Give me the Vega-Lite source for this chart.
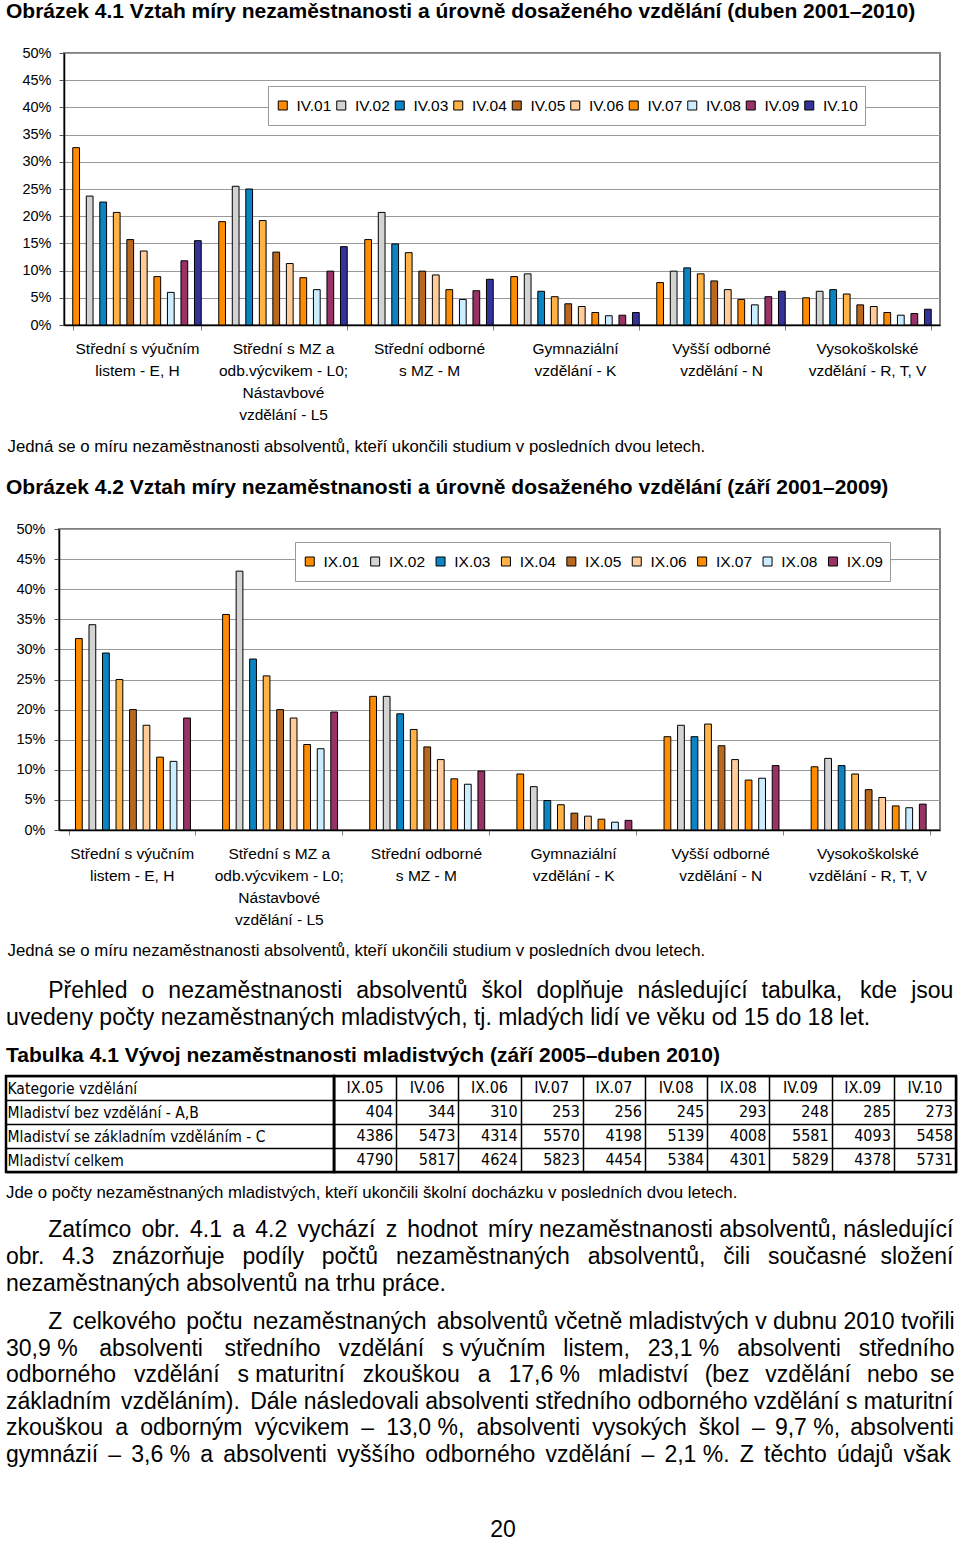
{
 "$schema": "https://vega.github.io/schema/vega-lite/v6.json",
 "background": "white",
 "padding": {"left": 4, "top": 1, "right": 0, "bottom": 0},
 "autosize": {"type": "pad"},
 "bounds": "full",
 "spacing": 0,
 "resolve": {"scale": {"color": "independent"}, "legend": {"color": "independent"}},
 "config": {
  "view": {"stroke": null},
  "font": "Liberation Sans",
  "title": {"font": "Liberation Sans", "color": "#000", "anchor": "start", "frame": "group", "fontWeight": "normal"},
  "axis": {"labelFont": "Liberation Sans", "titleFont": "Liberation Sans", "labelColor": "#000", "titleColor": "#000"},
  "legend": {"labelFont": "Liberation Sans", "labelColor": "#000"}
 },
 "datasets": {
  "duben": [
   {"kat": "Střední s výučním listem - E, H", "obd": "IV.01", "pct": 32.6},
   {"kat": "Střední s výučním listem - E, H", "obd": "IV.02", "pct": 23.7},
   {"kat": "Střední s výučním listem - E, H", "obd": "IV.03", "pct": 22.6},
   {"kat": "Střední s výučním listem - E, H", "obd": "IV.04", "pct": 20.7},
   {"kat": "Střední s výučním listem - E, H", "obd": "IV.05", "pct": 15.7},
   {"kat": "Střední s výučním listem - E, H", "obd": "IV.06", "pct": 13.6},
   {"kat": "Střední s výučním listem - E, H", "obd": "IV.07", "pct": 8.9},
   {"kat": "Střední s výučním listem - E, H", "obd": "IV.08", "pct": 6.0},
   {"kat": "Střední s výučním listem - E, H", "obd": "IV.09", "pct": 11.8},
   {"kat": "Střední s výučním listem - E, H", "obd": "IV.10", "pct": 15.5},
   {"kat": "Střední s MZ a odb.výcvikem - L0; Nástavbové vzdělání - L5", "obd": "IV.01", "pct": 19.0},
   {"kat": "Střední s MZ a odb.výcvikem - L0; Nástavbové vzdělání - L5", "obd": "IV.02", "pct": 25.5},
   {"kat": "Střední s MZ a odb.výcvikem - L0; Nástavbové vzdělání - L5", "obd": "IV.03", "pct": 25.0},
   {"kat": "Střední s MZ a odb.výcvikem - L0; Nástavbové vzdělání - L5", "obd": "IV.04", "pct": 19.2},
   {"kat": "Střední s MZ a odb.výcvikem - L0; Nástavbové vzdělání - L5", "obd": "IV.05", "pct": 13.4},
   {"kat": "Střední s MZ a odb.výcvikem - L0; Nástavbové vzdělání - L5", "obd": "IV.06", "pct": 11.3},
   {"kat": "Střední s MZ a odb.výcvikem - L0; Nástavbové vzdělání - L5", "obd": "IV.07", "pct": 8.7},
   {"kat": "Střední s MZ a odb.výcvikem - L0; Nástavbové vzdělání - L5", "obd": "IV.08", "pct": 6.5},
   {"kat": "Střední s MZ a odb.výcvikem - L0; Nástavbové vzdělání - L5", "obd": "IV.09", "pct": 9.9},
   {"kat": "Střední s MZ a odb.výcvikem - L0; Nástavbové vzdělání - L5", "obd": "IV.10", "pct": 14.4},
   {"kat": "Střední odborné s MZ - M", "obd": "IV.01", "pct": 15.7},
   {"kat": "Střední odborné s MZ - M", "obd": "IV.02", "pct": 20.7},
   {"kat": "Střední odborné s MZ - M", "obd": "IV.03", "pct": 14.9},
   {"kat": "Střední odborné s MZ - M", "obd": "IV.04", "pct": 13.3},
   {"kat": "Střední odborné s MZ - M", "obd": "IV.05", "pct": 9.9},
   {"kat": "Střední odborné s MZ - M", "obd": "IV.06", "pct": 9.2},
   {"kat": "Střední odborné s MZ - M", "obd": "IV.07", "pct": 6.5},
   {"kat": "Střední odborné s MZ - M", "obd": "IV.08", "pct": 4.7},
   {"kat": "Střední odborné s MZ - M", "obd": "IV.09", "pct": 6.3},
   {"kat": "Střední odborné s MZ - M", "obd": "IV.10", "pct": 8.4},
   {"kat": "Gymnaziální vzdělání - K", "obd": "IV.01", "pct": 8.9},
   {"kat": "Gymnaziální vzdělání - K", "obd": "IV.02", "pct": 9.4},
   {"kat": "Gymnaziální vzdělání - K", "obd": "IV.03", "pct": 6.2},
   {"kat": "Gymnaziální vzdělání - K", "obd": "IV.04", "pct": 5.2},
   {"kat": "Gymnaziální vzdělání - K", "obd": "IV.05", "pct": 3.9},
   {"kat": "Gymnaziální vzdělání - K", "obd": "IV.06", "pct": 3.4},
   {"kat": "Gymnaziální vzdělání - K", "obd": "IV.07", "pct": 2.3},
   {"kat": "Gymnaziální vzdělání - K", "obd": "IV.08", "pct": 1.7},
   {"kat": "Gymnaziální vzdělání - K", "obd": "IV.09", "pct": 1.8},
   {"kat": "Gymnaziální vzdělání - K", "obd": "IV.10", "pct": 2.3},
   {"kat": "Vyšší odborné vzdělání - N", "obd": "IV.01", "pct": 7.8},
   {"kat": "Vyšší odborné vzdělání - N", "obd": "IV.02", "pct": 9.9},
   {"kat": "Vyšší odborné vzdělání - N", "obd": "IV.03", "pct": 10.5},
   {"kat": "Vyšší odborné vzdělání - N", "obd": "IV.04", "pct": 9.4},
   {"kat": "Vyšší odborné vzdělání - N", "obd": "IV.05", "pct": 8.1},
   {"kat": "Vyšší odborné vzdělání - N", "obd": "IV.06", "pct": 6.5},
   {"kat": "Vyšší odborné vzdělání - N", "obd": "IV.07", "pct": 4.7},
   {"kat": "Vyšší odborné vzdělání - N", "obd": "IV.08", "pct": 3.7},
   {"kat": "Vyšší odborné vzdělání - N", "obd": "IV.09", "pct": 5.2},
   {"kat": "Vyšší odborné vzdělání - N", "obd": "IV.10", "pct": 6.2},
   {"kat": "Vysokoškolské vzdělání - R, T, V", "obd": "IV.01", "pct": 5.0},
   {"kat": "Vysokoškolské vzdělání - R, T, V", "obd": "IV.02", "pct": 6.2},
   {"kat": "Vysokoškolské vzdělání - R, T, V", "obd": "IV.03", "pct": 6.5},
   {"kat": "Vysokoškolské vzdělání - R, T, V", "obd": "IV.04", "pct": 5.7},
   {"kat": "Vysokoškolské vzdělání - R, T, V", "obd": "IV.05", "pct": 3.7},
   {"kat": "Vysokoškolské vzdělání - R, T, V", "obd": "IV.06", "pct": 3.4},
   {"kat": "Vysokoškolské vzdělání - R, T, V", "obd": "IV.07", "pct": 2.3},
   {"kat": "Vysokoškolské vzdělání - R, T, V", "obd": "IV.08", "pct": 1.8},
   {"kat": "Vysokoškolské vzdělání - R, T, V", "obd": "IV.09", "pct": 2.1},
   {"kat": "Vysokoškolské vzdělání - R, T, V", "obd": "IV.10", "pct": 2.9}
  ],
  "zari": [
   {"kat": "Střední s výučním listem - E, H", "obd": "IX.01", "pct": 31.8},
   {"kat": "Střední s výučním listem - E, H", "obd": "IX.02", "pct": 34.1},
   {"kat": "Střední s výučním listem - E, H", "obd": "IX.03", "pct": 29.4},
   {"kat": "Střední s výučním listem - E, H", "obd": "IX.04", "pct": 25.0},
   {"kat": "Střední s výučním listem - E, H", "obd": "IX.05", "pct": 20.0},
   {"kat": "Střední s výučním listem - E, H", "obd": "IX.06", "pct": 17.4},
   {"kat": "Střední s výučním listem - E, H", "obd": "IX.07", "pct": 12.1},
   {"kat": "Střední s výučním listem - E, H", "obd": "IX.08", "pct": 11.4},
   {"kat": "Střední s výučním listem - E, H", "obd": "IX.09", "pct": 18.6},
   {"kat": "Střední s MZ a odb.výcvikem - L0; Nástavbové vzdělání - L5", "obd": "IX.01", "pct": 35.8},
   {"kat": "Střední s MZ a odb.výcvikem - L0; Nástavbové vzdělání - L5", "obd": "IX.02", "pct": 43.0},
   {"kat": "Střední s MZ a odb.výcvikem - L0; Nástavbové vzdělání - L5", "obd": "IX.03", "pct": 28.4},
   {"kat": "Střední s MZ a odb.výcvikem - L0; Nástavbové vzdělání - L5", "obd": "IX.04", "pct": 25.6},
   {"kat": "Střední s MZ a odb.výcvikem - L0; Nástavbové vzdělání - L5", "obd": "IX.05", "pct": 20.0},
   {"kat": "Střední s MZ a odb.výcvikem - L0; Nástavbové vzdělání - L5", "obd": "IX.06", "pct": 18.6},
   {"kat": "Střední s MZ a odb.výcvikem - L0; Nástavbové vzdělání - L5", "obd": "IX.07", "pct": 14.2},
   {"kat": "Střední s MZ a odb.výcvikem - L0; Nástavbové vzdělání - L5", "obd": "IX.08", "pct": 13.5},
   {"kat": "Střední s MZ a odb.výcvikem - L0; Nástavbové vzdělání - L5", "obd": "IX.09", "pct": 19.6},
   {"kat": "Střední odborné s MZ - M", "obd": "IX.01", "pct": 22.2},
   {"kat": "Střední odborné s MZ - M", "obd": "IX.02", "pct": 22.2},
   {"kat": "Střední odborné s MZ - M", "obd": "IX.03", "pct": 19.3},
   {"kat": "Střední odborné s MZ - M", "obd": "IX.04", "pct": 16.7},
   {"kat": "Střední odborné s MZ - M", "obd": "IX.05", "pct": 13.8},
   {"kat": "Střední odborné s MZ - M", "obd": "IX.06", "pct": 11.7},
   {"kat": "Střední odborné s MZ - M", "obd": "IX.07", "pct": 8.5},
   {"kat": "Střední odborné s MZ - M", "obd": "IX.08", "pct": 7.6},
   {"kat": "Střední odborné s MZ - M", "obd": "IX.09", "pct": 9.8},
   {"kat": "Gymnaziální vzdělání - K", "obd": "IX.01", "pct": 9.3},
   {"kat": "Gymnaziální vzdělání - K", "obd": "IX.02", "pct": 7.2},
   {"kat": "Gymnaziální vzdělání - K", "obd": "IX.03", "pct": 4.9},
   {"kat": "Gymnaziální vzdělání - K", "obd": "IX.04", "pct": 4.2},
   {"kat": "Gymnaziální vzdělání - K", "obd": "IX.05", "pct": 2.8},
   {"kat": "Gymnaziální vzdělání - K", "obd": "IX.06", "pct": 2.3},
   {"kat": "Gymnaziální vzdělání - K", "obd": "IX.07", "pct": 1.8},
   {"kat": "Gymnaziální vzdělání - K", "obd": "IX.08", "pct": 1.3},
   {"kat": "Gymnaziální vzdělání - K", "obd": "IX.09", "pct": 1.6},
   {"kat": "Vyšší odborné vzdělání - N", "obd": "IX.01", "pct": 15.5},
   {"kat": "Vyšší odborné vzdělání - N", "obd": "IX.02", "pct": 17.4},
   {"kat": "Vyšší odborné vzdělání - N", "obd": "IX.03", "pct": 15.5},
   {"kat": "Vyšší odborné vzdělání - N", "obd": "IX.04", "pct": 17.6},
   {"kat": "Vyšší odborné vzdělání - N", "obd": "IX.05", "pct": 14.0},
   {"kat": "Vyšší odborné vzdělání - N", "obd": "IX.06", "pct": 11.7},
   {"kat": "Vyšší odborné vzdělání - N", "obd": "IX.07", "pct": 8.3},
   {"kat": "Vyšší odborné vzdělání - N", "obd": "IX.08", "pct": 8.6},
   {"kat": "Vyšší odborné vzdělání - N", "obd": "IX.09", "pct": 10.7},
   {"kat": "Vysokoškolské vzdělání - R, T, V", "obd": "IX.01", "pct": 10.5},
   {"kat": "Vysokoškolské vzdělání - R, T, V", "obd": "IX.02", "pct": 11.9},
   {"kat": "Vysokoškolské vzdělání - R, T, V", "obd": "IX.03", "pct": 10.7},
   {"kat": "Vysokoškolské vzdělání - R, T, V", "obd": "IX.04", "pct": 9.3},
   {"kat": "Vysokoškolské vzdělání - R, T, V", "obd": "IX.05", "pct": 6.7},
   {"kat": "Vysokoškolské vzdělání - R, T, V", "obd": "IX.06", "pct": 5.4},
   {"kat": "Vysokoškolské vzdělání - R, T, V", "obd": "IX.07", "pct": 4.0},
   {"kat": "Vysokoškolské vzdělání - R, T, V", "obd": "IX.08", "pct": 3.7},
   {"kat": "Vysokoškolské vzdělání - R, T, V", "obd": "IX.09", "pct": 4.3}
  ],
  "mladistvi": [
   {"obd": "IX.05", "kat": "Mladiství bez vzdělání - A,B", "pocet": 404},
   {"obd": "IX.05", "kat": "Mladiství se základním vzděláním - C", "pocet": 4386},
   {"obd": "IX.05", "kat": "Mladiství celkem", "pocet": 4790},
   {"obd": "IV.06", "kat": "Mladiství bez vzdělání - A,B", "pocet": 344},
   {"obd": "IV.06", "kat": "Mladiství se základním vzděláním - C", "pocet": 5473},
   {"obd": "IV.06", "kat": "Mladiství celkem", "pocet": 5817},
   {"obd": "IX.06", "kat": "Mladiství bez vzdělání - A,B", "pocet": 310},
   {"obd": "IX.06", "kat": "Mladiství se základním vzděláním - C", "pocet": 4314},
   {"obd": "IX.06", "kat": "Mladiství celkem", "pocet": 4624},
   {"obd": "IV.07", "kat": "Mladiství bez vzdělání - A,B", "pocet": 253},
   {"obd": "IV.07", "kat": "Mladiství se základním vzděláním - C", "pocet": 5570},
   {"obd": "IV.07", "kat": "Mladiství celkem", "pocet": 5823},
   {"obd": "IX.07", "kat": "Mladiství bez vzdělání - A,B", "pocet": 256},
   {"obd": "IX.07", "kat": "Mladiství se základním vzděláním - C", "pocet": 4198},
   {"obd": "IX.07", "kat": "Mladiství celkem", "pocet": 4454},
   {"obd": "IV.08", "kat": "Mladiství bez vzdělání - A,B", "pocet": 245},
   {"obd": "IV.08", "kat": "Mladiství se základním vzděláním - C", "pocet": 5139},
   {"obd": "IV.08", "kat": "Mladiství celkem", "pocet": 5384},
   {"obd": "IX.08", "kat": "Mladiství bez vzdělání - A,B", "pocet": 293},
   {"obd": "IX.08", "kat": "Mladiství se základním vzděláním - C", "pocet": 4008},
   {"obd": "IX.08", "kat": "Mladiství celkem", "pocet": 4301},
   {"obd": "IV.09", "kat": "Mladiství bez vzdělání - A,B", "pocet": 248},
   {"obd": "IV.09", "kat": "Mladiství se základním vzděláním - C", "pocet": 5581},
   {"obd": "IV.09", "kat": "Mladiství celkem", "pocet": 5829},
   {"obd": "IX.09", "kat": "Mladiství bez vzdělání - A,B", "pocet": 285},
   {"obd": "IX.09", "kat": "Mladiství se základním vzděláním - C", "pocet": 4093},
   {"obd": "IX.09", "kat": "Mladiství celkem", "pocet": 4378},
   {"obd": "IV.10", "kat": "Mladiství bez vzdělání - A,B", "pocet": 273},
   {"obd": "IV.10", "kat": "Mladiství se základním vzděláním - C", "pocet": 5458},
   {"obd": "IV.10", "kat": "Mladiství celkem", "pocet": 5731}
  ]
 },
 "vconcat": [
  {
   "bounds": "flush",
   "spacing": 0,
   "hconcat": [
    {
     "width": 58, "height": 424, "data": {"values": []}, "mark": "point",
     "title": {"text": "Obrázek 4.1 Vztah míry nezaměstnanosti a úrovně dosaženého vzdělání (duben 2001–2010)", "fontSize": 21, "fontWeight": "bold", "offset": 31}
    },
    {
     "width": 876,
     "height": 272,
     "view": {"stroke": "#808080", "strokeWidth": 2},
     "data": {"name": "duben"},
     "mark": {"type": "bar", "stroke": "#000", "strokeWidth": 1},
     "encoding": {
      "x": {
       "field": "kat", "type": "nominal",
       "sort": ["Střední s výučním listem - E, H", "Střední s MZ a odb.výcvikem - L0; Nástavbové vzdělání - L5", "Střední odborné s MZ - M", "Gymnaziální vzdělání - K", "Vyšší odborné vzdělání - N", "Vysokoškolské vzdělání - R, T, V"],
       "scale": {"paddingInner": 0.12, "paddingOuter": 0.06},
       "axis": {
        "labelExpr": "datum.label == 'Střední s výučním listem - E, H' ? ['Střední s výučním', 'listem - E, H'] : datum.label == 'Střední s MZ a odb.výcvikem - L0; Nástavbové vzdělání - L5' ? ['Střední s MZ a', 'odb.výcvikem - L0;', 'Nástavbové', 'vzdělání - L5'] : datum.label == 'Střední odborné s MZ - M' ? ['Střední odborné', 's MZ - M'] : datum.label == 'Gymnaziální vzdělání - K' ? ['Gymnaziální', 'vzdělání - K'] : datum.label == 'Vyšší odborné vzdělání - N' ? ['Vyšší odborné', 'vzdělání - N'] : datum.label == 'Vysokoškolské vzdělání - R, T, V' ? ['Vysokoškolské', 'vzdělání - R, T, V'] : ''",
        "labelAngle": 0, "labelFontSize": 15.5, "labelLineHeight": 22, "labelPadding": 11, "labelBaseline": "top", "labelLimit": 300, "labelOverlap": false,
        "domainColor": "#000", "domainWidth": 1.5, "tickBand": "extent", "tickColor": "#808080", "tickSize": 5,
        "title": "Jedná se o míru nezaměstnanosti absolventů, kteří ukončili studium v posledních dvou letech.",
        "titleFontSize": 16.8, "titleFontWeight": "normal", "titleAnchor": "start", "titleAlign": "left", "titleBaseline": "middle", "titleX": -57, "titleY": 121
       }
      },
      "xOffset": {"field": "obd", "type": "nominal", "sort": ["IV.01", "IV.02", "IV.03", "IV.04", "IV.05", "IV.06", "IV.07", "IV.08", "IV.09", "IV.10"], "scale": {"paddingInner": 0, "paddingOuter": 0}},
      "y": {
       "field": "pct", "type": "quantitative",
       "scale": {"domain": [0, 50], "nice": false},
       "axis": {"values": [0, 5, 10, 15, 20, 25, 30, 35, 40, 45, 50], "labelExpr": "datum.value + '%'", "labelFontSize": 14.5, "labelPadding": 8, "tickSize": 5, "tickColor": "#555", "domainColor": "#000", "domainWidth": 1.5, "gridColor": "#999", "gridWidth": 1, "title": null}
      },
      "color": {
       "field": "obd", "type": "nominal",
       "scale": {"domain": ["IV.01", "IV.02", "IV.03", "IV.04", "IV.05", "IV.06", "IV.07", "IV.08", "IV.09", "IV.10"], "range": ["#FF8C00", "#D3D3D3", "#0A84C2", "#FFB347", "#B8681F", "#FFCC99", "#FF8C00", "#CCECFF", "#993366", "#333399"]},
       "legend": {"orient": "none", "legendX": 262, "legendY": 33, "direction": "horizontal", "columns": 10, "title": null, "fillColor": "#fff", "strokeColor": "#999", "padding": 7, "clipHeight": 25, "symbolType": "square", "symbolSize": 81, "symbolStrokeColor": "#000", "symbolStrokeWidth": 1, "labelFontSize": 15.5, "labelOffset": 6, "columnPadding": 1.5}
      }
     }
    }
   ]
  },
  {
   "bounds": "flush",
   "spacing": 0,
   "hconcat": [
    {
     "width": 53, "height": 449, "data": {"values": []}, "mark": "point",
     "title": {"text": "Obrázek 4.2 Vztah míry nezaměstnanosti a úrovně dosaženého vzdělání (září 2001–2009)", "fontSize": 21, "fontWeight": "bold", "offset": 31}
    },
    {
     "width": 881,
     "height": 301,
     "view": {"stroke": "#808080", "strokeWidth": 2},
     "data": {"name": "zari"},
     "mark": {"type": "bar", "stroke": "#000", "strokeWidth": 1},
     "encoding": {
      "x": {
       "field": "kat", "type": "nominal",
       "sort": ["Střední s výučním listem - E, H", "Střední s MZ a odb.výcvikem - L0; Nástavbové vzdělání - L5", "Střední odborné s MZ - M", "Gymnaziální vzdělání - K", "Vyšší odborné vzdělání - N", "Vysokoškolské vzdělání - R, T, V"],
       "scale": {"paddingInner": 0.1446, "paddingOuter": 0.066},
       "axis": {
        "labelExpr": "datum.label == 'Střední s výučním listem - E, H' ? ['Střední s výučním', 'listem - E, H'] : datum.label == 'Střední s MZ a odb.výcvikem - L0; Nástavbové vzdělání - L5' ? ['Střední s MZ a', 'odb.výcvikem - L0;', 'Nástavbové', 'vzdělání - L5'] : datum.label == 'Střední odborné s MZ - M' ? ['Střední odborné', 's MZ - M'] : datum.label == 'Gymnaziální vzdělání - K' ? ['Gymnaziální', 'vzdělání - K'] : datum.label == 'Vyšší odborné vzdělání - N' ? ['Vyšší odborné', 'vzdělání - N'] : datum.label == 'Vysokoškolské vzdělání - R, T, V' ? ['Vysokoškolské', 'vzdělání - R, T, V'] : ''",
        "labelAngle": 0, "labelFontSize": 15.5, "labelLineHeight": 22, "labelPadding": 11, "labelBaseline": "top", "labelLimit": 300, "labelOverlap": false,
        "domainColor": "#000", "domainWidth": 1.5, "tickBand": "extent", "tickColor": "#808080", "tickSize": 5,
        "title": "Jedná se o míru nezaměstnanosti absolventů, kteří ukončili studium v posledních dvou letech.",
        "titleFontSize": 16.8, "titleFontWeight": "normal", "titleAnchor": "start", "titleAlign": "left", "titleBaseline": "middle", "titleX": -52, "titleY": 120
       }
      },
      "xOffset": {"field": "obd", "type": "nominal", "sort": ["IX.01", "IX.02", "IX.03", "IX.04", "IX.05", "IX.06", "IX.07", "IX.08", "IX.09"], "scale": {"paddingInner": 0, "paddingOuter": 0}},
      "y": {
       "field": "pct", "type": "quantitative",
       "scale": {"domain": [0, 50], "nice": false},
       "axis": {"values": [0, 5, 10, 15, 20, 25, 30, 35, 40, 45, 50], "labelExpr": "datum.value + '%'", "labelFontSize": 14.5, "labelPadding": 9, "tickSize": 5, "tickColor": "#555", "domainColor": "#000", "domainWidth": 1.5, "gridColor": "#999", "gridWidth": 1, "title": null}
      },
      "color": {
       "field": "obd", "type": "nominal",
       "scale": {"domain": ["IX.01", "IX.02", "IX.03", "IX.04", "IX.05", "IX.06", "IX.07", "IX.08", "IX.09"], "range": ["#FF8C00", "#D3D3D3", "#0A84C2", "#FFB347", "#B8681F", "#FFCC99", "#FF8C00", "#CCECFF", "#993366"]},
       "legend": {"orient": "none", "legendX": 289, "legendY": 13, "direction": "horizontal", "columns": 9, "title": null, "fillColor": "#fff", "strokeColor": "#999", "padding": 7, "clipHeight": 25, "symbolType": "square", "symbolSize": 81, "symbolStrokeColor": "#000", "symbolStrokeWidth": 1, "labelFontSize": 15.5, "labelOffset": 6, "columnPadding": 7.4}
      }
     }
    }
   ]
  },
  {
   "bounds": "flush",
   "spacing": 0,
   "hconcat": [
    {
     "width": 328,
     "height": 96,
     "view": {"stroke": "#000", "strokeWidth": 2.5},
     "title": {
      "text": ["\u200b\u2003\u2002\u2004Přehled \u2004o \u2004nezaměstnanosti \u2004absolventů \u2004škol \u2004doplňuje \u2004následující \u2004tabulka, \u2004\u2006kde \u2004jsou", "uvedeny počty nezaměstnaných mladistvých, tj. mladých lidí ve věku od 15 do 18 let."],
      "fontSize": 23, "lineHeight": 27,
      "subtitle": "Tabulka 4.1 Vývoj nezaměstnanosti mladistvých (září 2005–duben 2010)",
      "subtitleFont": "Liberation Sans", "subtitleFontSize": 21, "subtitleFontWeight": "bold", "subtitleColor": "#000", "subtitlePadding": 15,
      "offset": 3
     },
     "data": {"name": "mladistvi"},
     "mark": {"type": "point", "opacity": 0},
     "encoding": {
      "y": {
       "field": "kat", "type": "nominal",
       "scale": {"domain": ["Kategorie vzdělání", "Mladiství bez vzdělání - A,B", "Mladiství se základním vzděláním - C", "Mladiství celkem"], "paddingInner": 0, "paddingOuter": 0},
       "axis": {"title": null, "domain": false, "ticks": false, "tickSize": 0, "labelAlign": "left", "labelPadding": -1, "labelFont": "DejaVu Sans Condensed", "labelFontSize": 15.5, "labelLimit": 0, "grid": true, "tickBand": "extent", "gridColor": "#000", "gridWidth": 1.5}
      }
     }
    },
    {
     "width": 622,
     "height": 96,
     "view": {"stroke": "#000", "strokeWidth": 2.5},
     "data": {"name": "mladistvi"},
     "layer": [
      {
       "mark": {"type": "text", "align": "right", "baseline": "middle", "dx": -3, "font": "DejaVu Sans Condensed", "fontSize": 16, "color": "#000"},
       "encoding": {
        "x": {"field": "obd", "type": "nominal", "bandPosition": 1, "sort": ["IX.05", "IV.06", "IX.06", "IV.07", "IX.07", "IV.08", "IX.08", "IV.09", "IX.09", "IV.10"], "scale": {"paddingInner": 0, "paddingOuter": 0}, "axis": {"title": null, "labels": false, "ticks": false, "domain": false, "grid": true, "tickBand": "extent", "gridColor": "#000", "gridWidth": 1.5}},
        "y": {"field": "kat", "type": "nominal", "scale": {"domain": ["Kategorie vzdělání", "Mladiství bez vzdělání - A,B", "Mladiství se základním vzděláním - C", "Mladiství celkem"], "paddingInner": 0, "paddingOuter": 0}, "axis": {"title": null, "labels": false, "ticks": false, "domain": false, "grid": true, "tickBand": "extent", "gridColor": "#000", "gridWidth": 1.5}},
        "text": {"field": "pocet", "type": "quantitative", "format": "d"}
       }
      },
      {
       "transform": [{"filter": "datum.kat == 'Mladiství celkem'"}],
       "mark": {"type": "text", "align": "center", "baseline": "middle", "font": "DejaVu Sans Condensed", "fontSize": 16, "color": "#000"},
       "encoding": {
        "x": {"field": "obd", "type": "nominal", "sort": ["IX.05", "IV.06", "IX.06", "IV.07", "IX.07", "IV.08", "IX.08", "IV.09", "IX.09", "IV.10"], "scale": {"paddingInner": 0, "paddingOuter": 0}, "axis": {"title": null, "labels": false, "ticks": false, "domain": false, "grid": true, "tickBand": "extent", "gridColor": "#000", "gridWidth": 1.5}},
        "y": {"datum": "Kategorie vzdělání", "type": "nominal", "scale": {"domain": ["Kategorie vzdělání", "Mladiství bez vzdělání - A,B", "Mladiství se základním vzděláním - C", "Mladiství celkem"], "paddingInner": 0, "paddingOuter": 0}, "axis": {"title": null, "labels": false, "ticks": false, "domain": false, "grid": true, "tickBand": "extent", "gridColor": "#000", "gridWidth": 1.5}},
        "text": {"field": "obd", "type": "nominal"}
       }
      }
     ]
    }
   ]
  },
  {
   "width": 950,
   "height": 1,
   "data": {"values": []},
   "mark": "point",
   "title": {
    "text": "Jde o počty nezaměstnaných mladistvých, kteří ukončili školní docházku v posledních dvou letech.",
    "orient": "bottom", "fontSize": 16.8, "offset": 10,
    "subtitle": ["\u200b\u2003\u2002\u2004Zatímco \u2006obr. \u20064.1 \u2006a \u20064.2 \u2006vychází \u2006z \u2006hodnot \u2006míry nezaměstnanosti absolventů, následující", "obr. \u20024.3 \u2002znázorňuje \u2002podíly \u2002počtů \u2002nezaměstnaných \u2002absolventů, \u2002čili \u2002současné \u2004složení", "nezaměstnaných absolventů na trhu práce."],
    "subtitleFont": "Liberation Sans", "subtitleFontSize": 23, "subtitleLineHeight": 27, "subtitleColor": "#000", "subtitlePadding": 17
   }
  },
  {
   "width": 950,
   "height": 14,
   "data": {"values": []},
   "mark": "point",
   "title": {
    "text": ["\u200b\u2003\u2002\u2004Z \u2006celkového \u2006počtu \u2006nezaměstnaných \u2006absolventů včetně mladistvých v dubnu 2010 tvořili", "30,9\u00a0% \u2002\u2006absolventi \u2002\u2006středního \u2002vzdělání \u2002s výučním \u2002listem, \u200223,1\u00a0% \u2002absolventi \u2002středního", "odborného \u2002vzdělání \u2002s maturitní \u2002zkouškou \u2002a \u200217,6\u00a0% \u2002mladiství \u2005\u2006(bez \u2005\u2006vzdělání \u2005\u2006nebo \u2005se", "základním \u2006vzděláním). \u2006Dále následovali absolventi středního odborného vzdělání s maturitní", "zkouškou \u2005a \u2005odborným \u2005výcvikem \u2005– \u200513,0\u00a0%, \u2005absolventi \u2005vysokých \u2005škol \u2005– \u20069,7\u00a0%, \u2006absolventi", "gymnázií \u2006– \u20063,6\u00a0% \u2006a \u2006absolventi \u2006vyššího \u2006odborného \u2006vzdělání \u2006– \u20062,1\u00a0%. \u2006Z \u2006těchto \u2006údajů \u2006však"],
    "orient": "bottom", "fontSize": 23, "lineHeight": 26.5, "offset": 1
   }
  },
  {
   "width": 950,
   "height": 51,
   "data": {"values": []},
   "mark": "point",
   "title": {"text": "20", "orient": "bottom", "anchor": "middle", "fontSize": 23, "offset": 1, "dx": 22}
  }
 ]
}
